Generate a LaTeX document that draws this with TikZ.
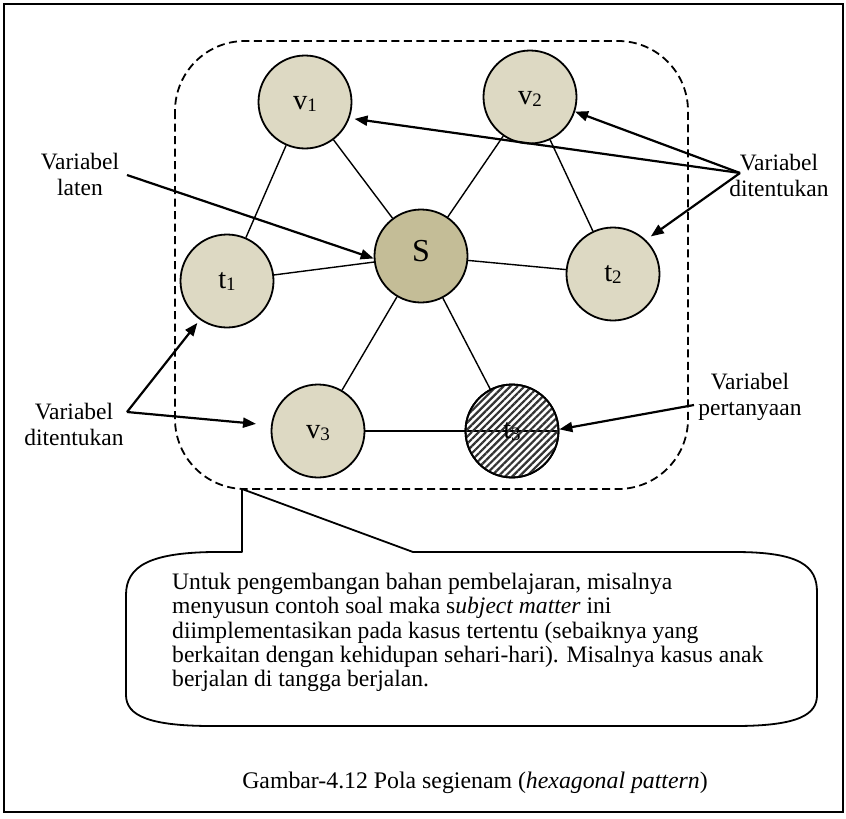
\documentclass[tikz,border=0pt]{standalone}
\usepackage{fontspec}
\setmainfont{Liberation Serif}
\usetikzlibrary{arrows.meta,patterns.meta}

\definecolor{tanlight}{HTML}{DDD9C3}
\definecolor{tandark}{HTML}{C4BD97}
\newcommand\subidx[1]{\raisebox{-2.3pt}{\fontsize{19}{19}\selectfont #1}}

\begin{document}
\begin{tikzpicture}[x=1pt,y=-1pt,
  var/.style={circle,draw=black,line width=1.8pt,fill=tanlight,
    minimum size=93pt,inner sep=0pt,font=\fontsize{28.5}{28.5}\selectfont,
    text height=20pt,text depth=6pt},
  latent/.style={var,fill=tandark,font=\fontsize{32}{32}\selectfont,
    text height=16pt,text depth=6pt},
  query/.style={var,fill=none},
  edge/.style={line width=1.4pt},
  pointer/.style={line width=2.2pt,-{Triangle[length=13pt,width=10pt]}},
  note/.style={align=center,inner sep=0pt,font=\fontsize{23.5}{26}\selectfont},
]
\useasboundingbox (0,0) rectangle (846,819);
\fill[white] (0,0) rectangle (846,819);

% outer frame
\draw[line width=2pt] (4,4) rectangle (843,812);

% dashed group boundary
\draw[line width=1.8pt,dash pattern=on 8pt off 4.5pt,rounded corners=70pt]
  (175,41) rectangle (688,489);

% variables
\node[var]    (v1) at (305,102) {v\subidx{1}};
\node[var]    (v2) at (530,97)  {v\subidx{2}};
\node[var]    (t1) at (227,281) {t\subidx{1}};
\node[var]    (t2) at (613,274) {t\subidx{2}};
\node[latent] (S)  at (421,256) {S};
\node[var]    (v3) at (318,431) {v\subidx{3}};
\node[query]  (t3) at (512,431) {};

% relations
\draw[edge] (v1) -- (t1);
\draw[edge] (v1) -- (S);
\draw[edge] (v2) -- (S);
\draw[edge] (v2) -- (t2);
\draw[edge] (t1) -- (S);
\draw[edge] (t2) -- (S);
\draw[edge] (S) -- (v3);
\draw[edge] (S) -- (t3);
\draw[edge] (v3) -- (t3.east);

% hatched query variable
\path[pattern={Lines[angle=45,distance=5pt,line width=2.2pt]},pattern color=black!80]
  (t3.center) circle[radius=46.5pt];
\draw[line width=1.8pt] (t3.center) circle[radius=46.5pt];
\node[font=\fontsize{28.5}{28.5}\selectfont,text height=20pt,text depth=6pt,inner sep=0pt]
  (t3l) at (t3.center) {t\subidx{3}};

% annotations
\node[note] (lat)  at (80,174)  {Variabel\\laten};
\node[note] (detr) at (779,175) {Variabel\\ditentukan};
\node[note] (detl) at (74,424)  {Variabel\\ditentukan};
\node[note] (qry)  at (750,397) {Variabel\\pertanyaan};

\coordinate (latA)  at (127,175);
\coordinate (detrA) at (740,173);
\coordinate (detlA) at (127,412);
\coordinate (qryA)  at (694,405);

\draw[pointer] (latA) -- (S.183);
\draw[pointer,shorten >=5pt] (detrA) -- (v1.-20);
\draw[pointer] (detrA) -- (v2.-18);
\draw[pointer,shorten >=6pt] (detrA) -- (t2.46);
\draw[pointer,shorten >=4pt] (detlA) -- (t1.235);
\draw[pointer,shorten >=15pt] (detlA) -- (v3.173);
\draw[pointer] (qryA) -- (t3.2);

% callout
\draw[line width=1.8pt,line join=round]
  (242,489) -- (242,552) -- (212,552)
  .. controls (150,553) and (126,566) .. (126,595) -- (126,695)
  .. controls (126,716) and (150,726) .. (212,726) -- (735,726)
  .. controls (800,726) and (817,714) .. (817,695) -- (817,592)
  .. controls (817,566) and (800,552) .. (735,552) -- (413,552) -- cycle;

\node[anchor=north west,inner sep=0pt,align=left,font=\fontsize{23.6}{24.3}\selectfont]
  (txt) at (172,573) {Untuk pengembangan bahan pembelajaran, misalnya\\
  menyusun contoh soal maka s\textit{ubject matter} ini\\
  diimplementasikan pada kasus tertentu (sebaiknya yang\\
  berkaitan dengan kehidupan sehari-hari). Misalnya kasus anak\\
  berjalan di tangga berjalan.};

% caption
\node[anchor=base,inner sep=0pt,font=\fontsize{23.8}{26}\selectfont]
  (cap) at (475,788) {Gambar-4.12 Pola segienam (\textit{hexagonal pattern})};
\end{tikzpicture}
\end{document}
